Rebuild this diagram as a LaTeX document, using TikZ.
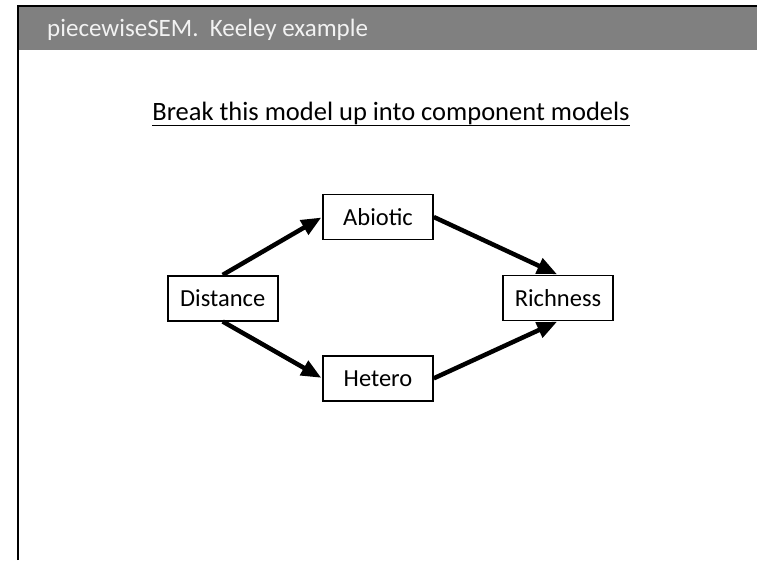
\documentclass[tikz,border=0pt]{standalone}
\usepackage{fontspec}
\setmainfont{Carlito}
\usetikzlibrary{arrows.meta}
\definecolor{barGray}{HTML}{808080}
\definecolor{titleWhite}{HTML}{F2F2F2}
\tikzset{
  varbox/.style={draw=black, line width=1.6pt, fill=white, minimum width=110pt, minimum height=45pt, inner sep=0pt, font=\fontsize{24.5}{28}\selectfont},
  path/.style={line width=4.5pt, -{Triangle[length=20pt,width=16pt]}, shorten >=1pt}
}
\begin{document}
\begin{tikzpicture}[x=1pt, y=-1pt]
  % page background
  \fill[white] (0,0) rectangle (757,560);
  \useasboundingbox (0,0) rectangle (757,560);
  % slide header bar and frame lines
  \fill[barGray] (19,7) rectangle (757,50);
  \draw[line width=2.5pt] (18,560) -- (18,6) -- (757,6);
  \node[anchor=base west, text=titleWhite, font=\fontsize{25}{30}\selectfont, inner sep=0pt] (title) at (47,36) {piecewiseSEM.\ \ Keeley example};
  % instruction line
  \node[anchor=base, font=\fontsize{26.5}{30}\selectfont, inner sep=0pt] (task) at (391,120) {\underline{Break this model up into component models}};
  % path diagram
  \node[varbox] (dist) at (222.7,298.2) {Distance};
  \node[varbox] (abio) at (378,217) {Abiotic};
  \node[varbox] (het) at (378,378.3) {Hetero};
  \node[varbox] (rich) at (558,298) {Richness};
  \draw[path] (dist.north) -- (abio.west);
  \draw[path] (dist.south) -- (het.west);
  \draw[path] (abio.east) -- (rich.north);
  \draw[path] (het.east) -- (rich.south);
\end{tikzpicture}
\end{document}
